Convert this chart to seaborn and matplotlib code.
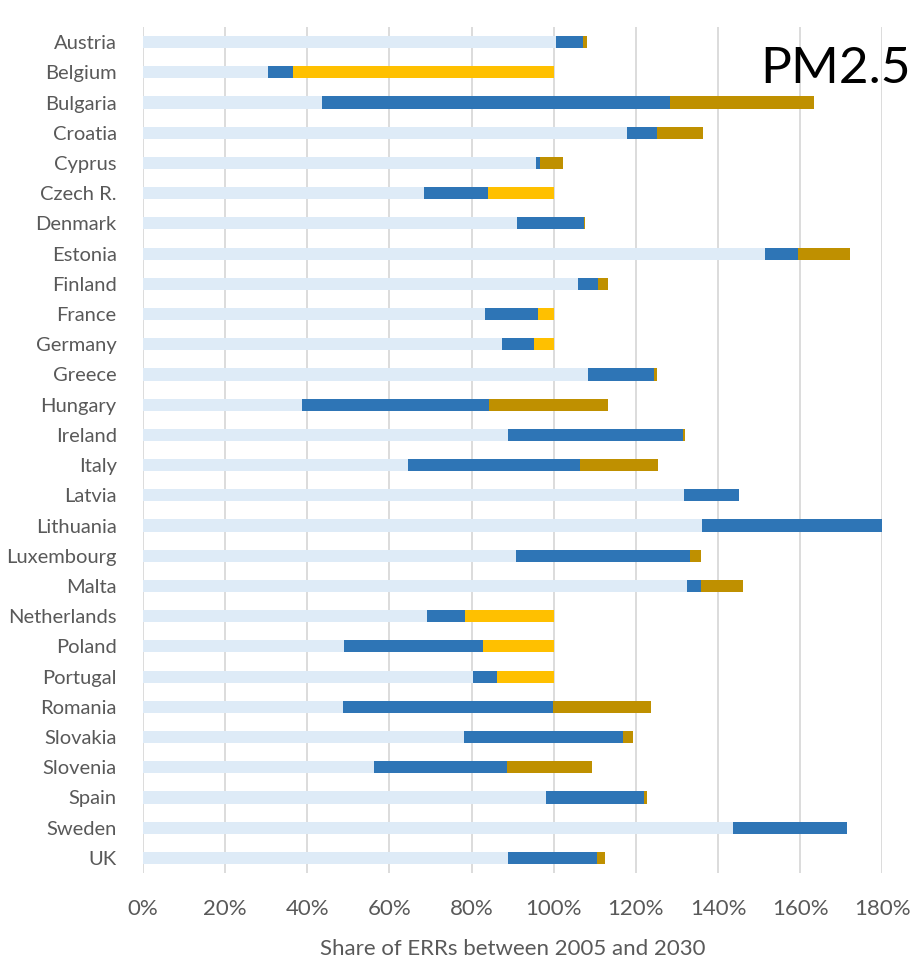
import matplotlib
matplotlib.use("Agg")
import matplotlib.pyplot as plt
import numpy as np
import pandas as pd
import seaborn as sns

countries = ["Austria", "Belgium", "Bulgaria", "Croatia", "Cyprus", "Czech R.", "Denmark",
             "Estonia", "Finland", "France", "Germany", "Greece", "Hungary", "Ireland",
             "Italy", "Latvia", "Lithuania", "Luxembourg", "Malta", "Netherlands", "Poland",
             "Portugal", "Romania", "Slovakia", "Slovenia", "Spain", "Sweden", "UK"]

# segment lengths in %
base = [100.5, 30.5, 43.5, 117.8, 95.7, 68.5, 91.1, 151.5, 105.8, 83.2, 87.5, 108.4, 38.7, 88.8,
        64.5, 131.7, 136.1, 90.8, 132.4, 69.2, 49.0, 80.3, 48.7, 78.1, 56.2, 98.1, 143.6, 88.8]
blue = [6.6, 6.0, 84.7, 7.4, 1.0, 15.6, 16.3, 8.0, 5.0, 12.9, 7.8, 15.9, 45.6, 42.6,
        41.9, 13.4, 44.0, 42.4, 3.4, 9.2, 33.7, 5.8, 51.1, 38.7, 32.3, 24.0, 27.7, 21.7]
gold = [1.1, 0, 35.1, 11.2, 5.5, 0, 0.1, 12.6, 2.3, 0, 0, 0.8, 28.8, 0.5,
        19.0, 0, 0, 2.7, 10.2, 0, 0, 0, 24.0, 2.6, 20.7, 0.7, 0.1, 2.1]
yellow = [0, 63.5, 0, 0, 0, 15.9, 0, 0, 0, 3.9, 4.7, 0, 0, 0,
          0, 0, 0, 0, 0, 21.6, 17.3, 13.9, 0, 0, 0, 0, 0, 0]

df = pd.DataFrame({"country": countries, "base": base, "blue": blue,
                   "gold": gold, "yellow": yellow})
df["c_base"] = df["base"]
df["c_blue"] = df["c_base"] + df["blue"]
df["c_gold"] = df["c_blue"] + df["gold"]
df["c_yellow"] = df["c_blue"] + df["yellow"]

sns.set_style("white")
plt.rcParams['font.family'] = ['Lato', 'DejaVu Sans']

fig = plt.figure(figsize=(9.14, 9.6), dpi=100)
ax = fig.add_axes([0.1565, 0.0906, 0.8088, 0.8813])

# overlapping cumulative bars, longest first
layers = [("c_yellow", "#FFC000"), ("c_gold", "#BF9000"),
          ("c_blue", "#2E75B6"), ("c_base", "#DEEBF7")]
for col, colr in layers:
    sns.barplot(data=df, x=col, y="country", order=countries, color=colr,
                saturation=1, width=0.4, linewidth=0, ax=ax)

ax.set_xlim(0, 180)
ax.set_xticks(np.arange(0, 181, 20))
ax.set_xticklabels(["{}%".format(v) for v in range(0, 181, 20)])
ax.grid(axis="x", color="#D9D9D9", linewidth=1.3)
ax.grid(axis="y", visible=False)
ax.set_axisbelow(True)
for s in ax.spines.values():
    s.set_visible(False)

ax.tick_params(axis="y", length=0, pad=19, labelsize=14.5, labelcolor="#595959")
ax.tick_params(axis="x", length=0, pad=19, labelsize=16, labelcolor="#595959")
ax.set_ylabel("")
ax.set_xlabel("Share of ERRs between 2005 and 2030", fontsize=16, color="#595959", labelpad=14)

fig.text(0.997, 0.914, "PM2.5", fontsize=37, color="black", ha="right", va="baseline")

fig.savefig("out.png", dpi=100)
